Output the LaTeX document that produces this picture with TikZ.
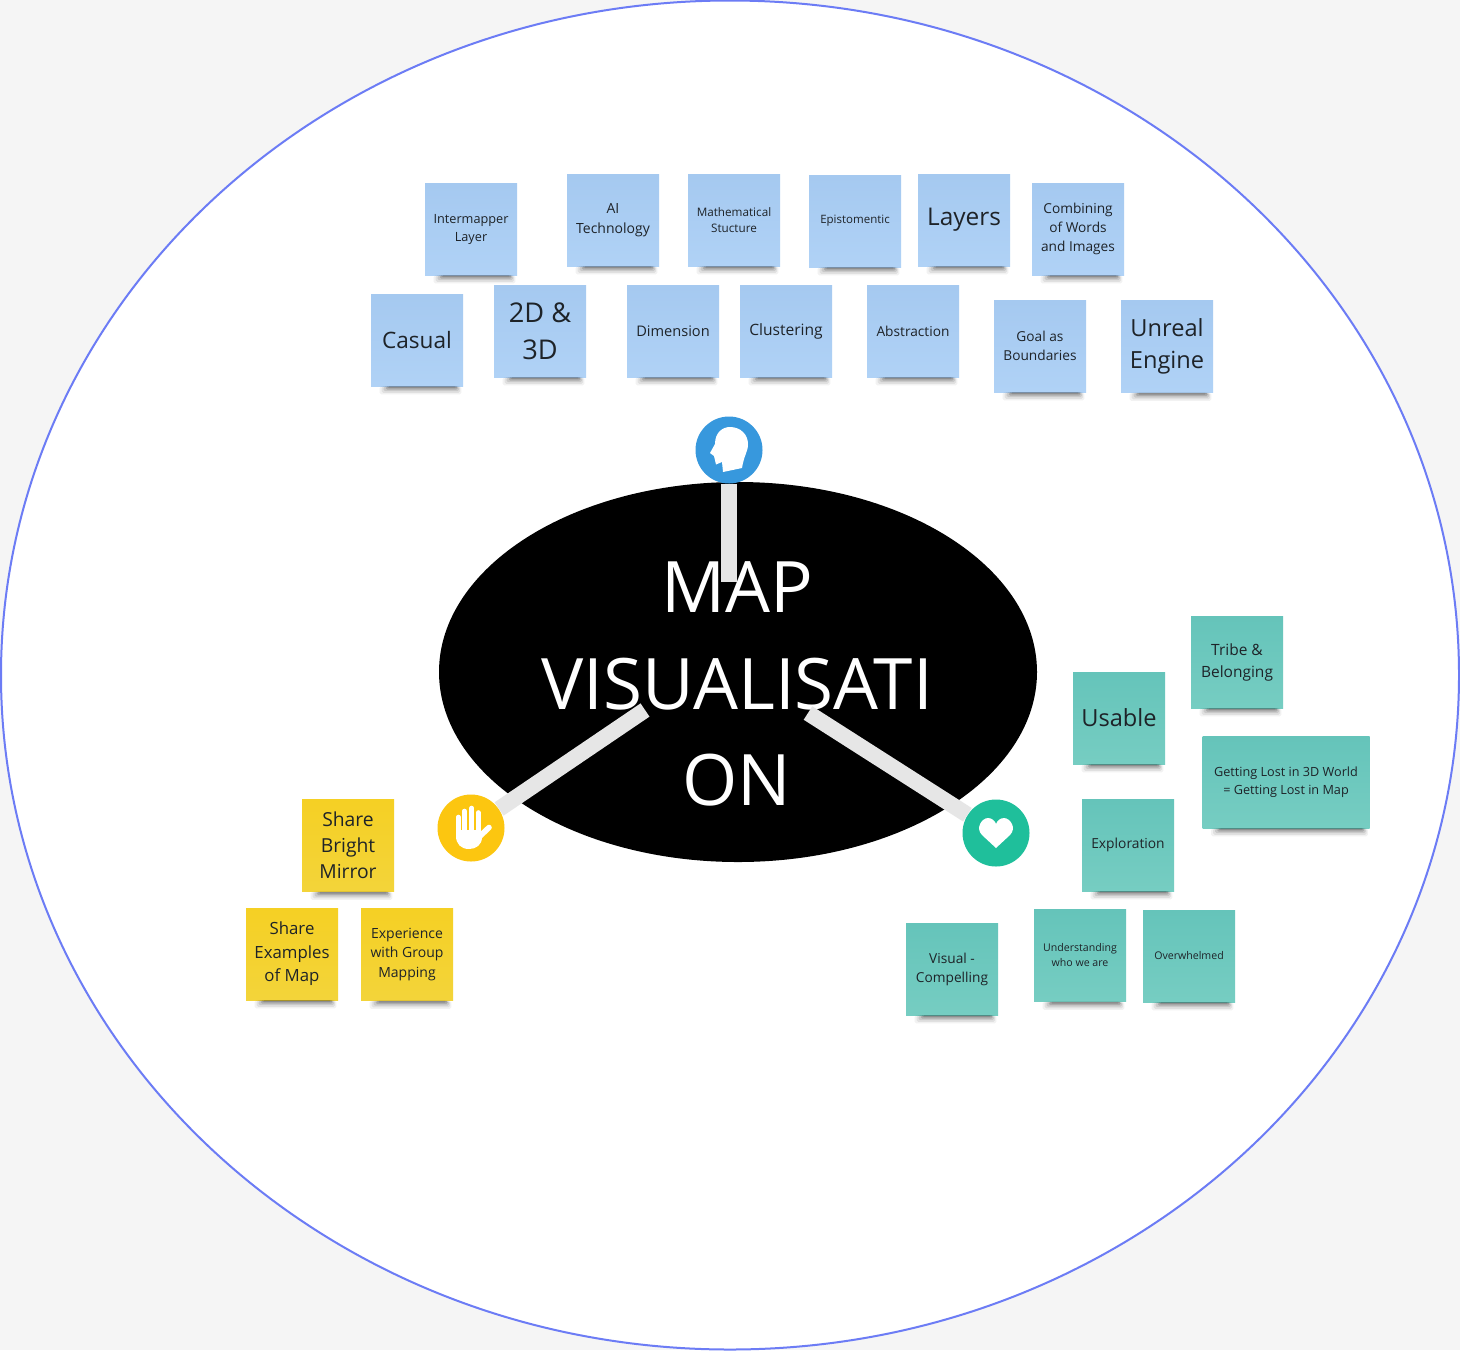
\documentclass[tikz,border=0pt]{standalone}
\usepackage{fontspec}
\setmainfont{Open Sans}
\usepackage{xcolor}
\usepackage{tikz}
\usetikzlibrary{shapes.geometric}
\definecolor{pagegray}{RGB}{245,245,245}
\definecolor{ringblue}{RGB}{108,124,245}
\definecolor{bargray}{RGB}{230,230,230}
\definecolor{headblue}{RGB}{55,152,221}
\definecolor{handyellow}{RGB}{252,198,16}
\definecolor{heartgreen}{RGB}{31,191,155}
\definecolor{inkdark}{RGB}{30,35,40}
\tikzset{
  sticky/.style={rectangle, minimum width=46pt, minimum height=46pt,
                 inner sep=0pt, align=center, text=inkdark},
  bluenote/.style={sticky, top color={rgb,255:red,165;green,201;blue,240},
                   bottom color={rgb,255:red,176;green,210;blue,246}},
  tealnote/.style={sticky, top color={rgb,255:red,101;green,196;blue,186},
                   bottom color={rgb,255:red,118;green,205;blue,194}},
  yellownote/.style={sticky, top color={rgb,255:red,245;green,208;blue,36},
                     bottom color={rgb,255:red,243;green,212;blue,58}},
  fs/.style 2 args={font=\fontsize{#1}{#2}\selectfont},
  icon/.style={circle, minimum size=33.5pt, inner sep=0pt},
  bar/.style={line width=8pt, color=bargray}
}

\begin{document}
\begin{tikzpicture}[x=0.5pt, y=-0.5pt]
  \useasboundingbox (0,0) rectangle (1460,1350);
  \fill[pagegray] (0,0) rectangle (1460,1350);

  % outer ring
  \node[ellipse, draw=ringblue, fill=white, line width=1pt, inner sep=0pt,
        minimum width=729pt, minimum height=674.5pt]
    (ring) at (730,675) {};

  % centre
  \node[ellipse, fill=black, inner sep=0pt,
        minimum width=299pt, minimum height=190pt]
    (core) at (738,672) {};
  \node[align=center, text=white, inner sep=0pt, fs={35.5}{48.2}]
    (title) at (737,684) {MAP\\VISUALISATI\\ON};

  % icons
  \node[icon, fill=headblue] (head) at (729,450) {};
  \node[icon, fill=handyellow] (hand) at (471,828) {};
  \node[icon, fill=heartgreen] (heart) at (996,833) {};
  \fill[white, shift={(head.center)}] (-19,3) -- (-14,-6)
    .. controls (-14,-18) and (-6,-23) .. (1,-23)
    .. controls (12,-23) and (19,-15) .. (19,-6)
    .. controls (19,2) and (15,5) .. (13,18)
    -- (-6,22) -- (-7,12) -- (-13,14.5) -- (-15,6) -- cycle;
  \begin{scope}[shift={(hand.center)}, white]
    \fill (-15,2) -- (10,2) -- (11,9) .. controls (11,17) and (5,21) .. (-2,21)
      .. controls (-10,21) and (-15,16) .. (-15,8) -- cycle;
    \draw[line width=2.3pt, line cap=round] (-12.7,-11) -- (-12.7,5);
    \draw[line width=2.3pt, line cap=round] (-6.5,-17) -- (-6.5,5);
    \draw[line width=2.3pt, line cap=round] (0.7,-20) -- (0.7,5);
    \draw[line width=2.3pt, line cap=round] (7.3,-15.5) -- (7.3,5);
    \draw[line width=2.8pt, line cap=round] (7,10) -- (18,-0.5);
  \end{scope}
  \fill[white, shift={(heart.center)}] (0,15) -- (-14,2)
    .. controls (-21,-5) and (-14,-15) .. (-8,-15)
    .. controls (-4,-15) and (-1,-12) .. (0,-9)
    .. controls (1,-12) and (4,-15) .. (8,-15)
    .. controls (14,-15) and (21,-5) .. (14,2) -- cycle;

  % connectors
  \coordinate (headend) at (729,582);
  \coordinate (handend) at (645,710);
  \coordinate (heartend) at (808,713);
  \draw[bar] (head) -- (headend);
  \draw[bar] (hand) -- (handend);
  \draw[bar] (heart) -- (heartend);

  % top row
  \node[bluenote, fs={6.35}{9}] (intermapper) at (471,229) {Intermapper\\Layer};
  \node[bluenote, fs={7}{9.7}] (aitech) at (613,220) {AI\\Technology};
  \node[bluenote, fs={5.85}{8}] (mathstruct) at (734,220) {Mathematical\\Stucture};
  \node[bluenote, fs={5.75}{8}] (epistemic) at (855,221) {Epistomentic};
  \node[bluenote, fs={12.2}{16}] (layers) at (964,220) {\raisebox{-1pt}{Layers}};
  \node[bluenote, fs={6.85}{9.5}] (combining) at (1078,229) {Combining\\of Words\\and Images};

  % second row
  \node[bluenote, fs={11.3}{16}] (casual) at (417,340) {Casual};
  \node[bluenote, fs={13.6}{18.5}] (twod) at (540,331) {2D \&\\3D};
  \node[bluenote, fs={7.3}{10}] (dimension) at (673,331) {Dimension};
  \node[bluenote, fs={7.8}{10}] (clustering) at (786,331) {Clustering};
  \node[bluenote, fs={6.85}{9.5}] (abstraction) at (913,331) {Abstraction};
  \node[bluenote, fs={6.85}{9.4}] (goal) at (1040,346) {Goal as\\Boundaries};
  \node[bluenote, fs={11.8}{16}] (unreal) at (1167,346.5) {Unreal\\Engine};

  % teal notes
  \node[tealnote, fs={7.75}{11}] (tribe) at (1237,662) {Tribe \&\\Belonging};
  \node[tealnote, fs={11.8}{16}] (usable) at (1119,718) {Usable};
  \node[tealnote, minimum width=83.5pt, fs={6.33}{9}] (lost) at (1286,782)
    {Getting Lost in 3D World\\= Getting Lost in Map};
  \node[tealnote, fs={6.9}{9.5}] (exploration) at (1128,845) {Exploration};
  \node[tealnote, fs={6.85}{9.5}] (visual) at (952,969) {Visual -\\Compelling};
  \node[tealnote, fs={5.3}{7.5}] (understanding) at (1080,955.5) {Understanding\\who we are};
  \node[tealnote, fs={5.3}{7.6}] (overwhelmed) at (1189,956) {Overwhelmed};

  % yellow notes
  \node[yellownote, fs={9.65}{13}] (bright) at (348,845.5) {Share\\Bright\\Mirror};
  \node[yellownote, fs={8.4}{11.8}] (examples) at (292,954) {Share\\Examples\\of Map};
  \node[yellownote, fs={7}{9.7}] (experience) at (407,954.5) {Experience\\with Group\\Mapping};

  % shadows under the notes
  \foreach \n in {intermapper, aitech, mathstruct, epistemic, layers, combining,
                  casual, twod, dimension, clustering, abstraction, goal, unreal,
                  tribe, usable, lost, exploration, visual, understanding,
                  overwhelmed, bright, examples, experience}
    \foreach \l/\r/\d/\o in {4.5/1/4/.05, 5.5/1.6/3.2/.07, 6.5/2.2/2.4/.10, 7.5/2.8/1.6/.14, 8.5/3.4/0.9/.18}
      \fill[black, opacity=\o, rounded corners=0.8pt]
        ([xshift=\l pt]\n.south west) rectangle ([xshift=-\r pt, yshift=-\d pt]\n.south east);

\end{tikzpicture}
\end{document}
